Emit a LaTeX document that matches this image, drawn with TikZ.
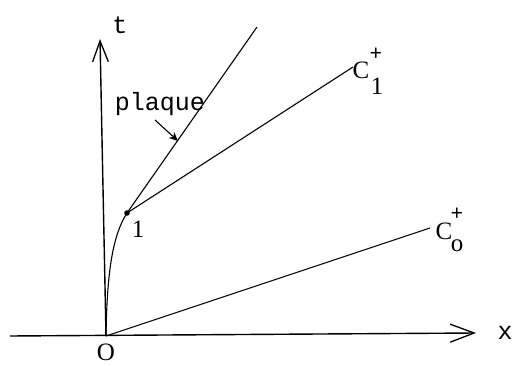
\documentclass[tikz,border=0pt]{standalone}
\usepackage{fontspec}
\setmainfont{Liberation Serif}
\newfontfamily\tyfont{Liberation Mono}
\usetikzlibrary{arrows.meta}
\begin{document}
\begin{tikzpicture}[x=1pt,y=-1pt,
  axis/.style={line width=1.4pt},
  ray/.style={line width=1.1pt},
  serif/.style={font=\fontsize{25}{25}\selectfont, inner sep=0pt},
  small/.style={font=\fontsize{22}{22}\selectfont, inner sep=0pt},
  mono/.style={font=\tyfont\fontsize{25}{25}\selectfont, inner sep=0pt},
  barb/.style={-{Straight Barb[length=#1,width=#1*0.75,line width=1.3pt]}}]
\useasboundingbox (0,0) rectangle (515,366);
\coordinate (O) at (106,336);
\coordinate (xl) at (10,336);
\coordinate (xr) at (476,333);
\coordinate (tt) at (100,39);
\coordinate (P) at (127,213);
\coordinate (pl) at (257,27);
\coordinate (c1) at (353,67);
\coordinate (c0) at (430,228);
\coordinate (pa) at (155,120);
\coordinate (pb) at (178,141);
% axes
\draw[axis, barb=24pt] (xl) -- (xr);
\draw[axis, barb=21pt] (O) -- (tt);
% curves and rays
\draw[ray] (O) .. controls (107,270) and (113,235) .. (P);
\draw[ray] (P) -- (pl);
\draw[ray] (P) -- (c1);
\draw[ray] (O) -- (c0);
\fill (P) circle (2.8pt);
% labels
\node[mono] (tlab) at (120,25) {t};
\node[mono] (xlab) at (505,333) {x};
\node[serif] (olab) at (106,352) {O};
\node[serif] (onelab) at (138,229) {1};
\node[mono] (plaq) at (160,104) {plaque};
\draw[ray, -{Stealth[length=9pt,width=8pt]}] (pa) -- (pb);
\node[serif] (cone) at (361,70) {C};
\node[small] (coneplus) at (376,54) {\textbf{+}};
\node[serif] (coneone) at (377,86) {1};
\node[serif] (czero) at (444,231) {C};
\node[small] (czeroplus) at (457,214) {\textbf{+}};
\node[serif] (czeroo) at (457,246) {o};
\end{tikzpicture}
\end{document}
